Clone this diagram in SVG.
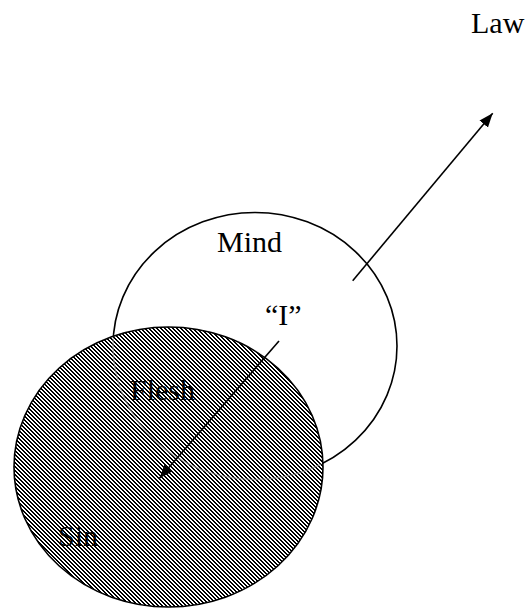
<svg xmlns="http://www.w3.org/2000/svg" width="529" height="609" viewBox="0 0 529 609">
  <style>
    .lbl { font-family: "Liberation Serif", "Times New Roman", serif; font-size: 30px; fill: #000; }
    .outline { stroke: #000; stroke-width: 1.6; }
    .conn { stroke: #000; stroke-width: 1.6; fill: none; }
  </style>
  <defs>
    <pattern id="hatch" patternUnits="userSpaceOnUse" x="0" y="0" width="4" height="4">
      <rect width="4" height="4" fill="#fff"/>
      <g fill="#000" shape-rendering="crispEdges">
        <rect x="0" y="0" width="2" height="1"/>
        <rect x="1" y="1" width="2" height="1"/>
        <rect x="2" y="2" width="2" height="1"/>
        <rect x="3" y="3" width="1" height="1"/>
        <rect x="0" y="3" width="1" height="1"/>
      </g>
    </pattern>
    <marker id="arrow" markerUnits="userSpaceOnUse" markerWidth="15" markerHeight="12" refX="14" refY="5.5" orient="auto">
      <path d="M0,0 L14,5.5 L0,11 z" fill="#000"/>
    </marker>
    <clipPath id="sinclip">
      <ellipse cx="168.5" cy="467" rx="153" ry="138.5"/>
    </clipPath>
  </defs>

  <g id="mind">
    <ellipse class="outline" cx="255" cy="346" rx="142" ry="133.5" fill="#fff"/>
    <text class="lbl" x="217" y="252">Mind</text>
  </g>

  <g id="sin">
    <ellipse class="outline" cx="168.5" cy="467" rx="154.5" ry="140" fill="url(#hatch)"/>
    <ellipse cx="255" cy="346" rx="142" ry="133.5" fill="none" stroke="#999" stroke-width="1.5" stroke-opacity="0.55" clip-path="url(#sinclip)"/>
    <text class="lbl" x="58" y="546">Sin</text>
  </g>

  <g id="flesh">
    <text class="lbl" x="130" y="400">Flesh</text>
  </g>

  <g id="i">
    <text class="lbl" x="265" y="325">“I”</text>
  </g>

  <g id="law">
    <text class="lbl" x="471" y="33">Law</text>
  </g>

  <g id="connectors">
    <line class="conn" x1="352.7" y1="280.7" x2="492.7" y2="113.3" marker-end="url(#arrow)"/>
    <line class="conn" x1="279" y1="341" x2="159.5" y2="478.3" marker-end="url(#arrow)"/>
  </g>
</svg>
